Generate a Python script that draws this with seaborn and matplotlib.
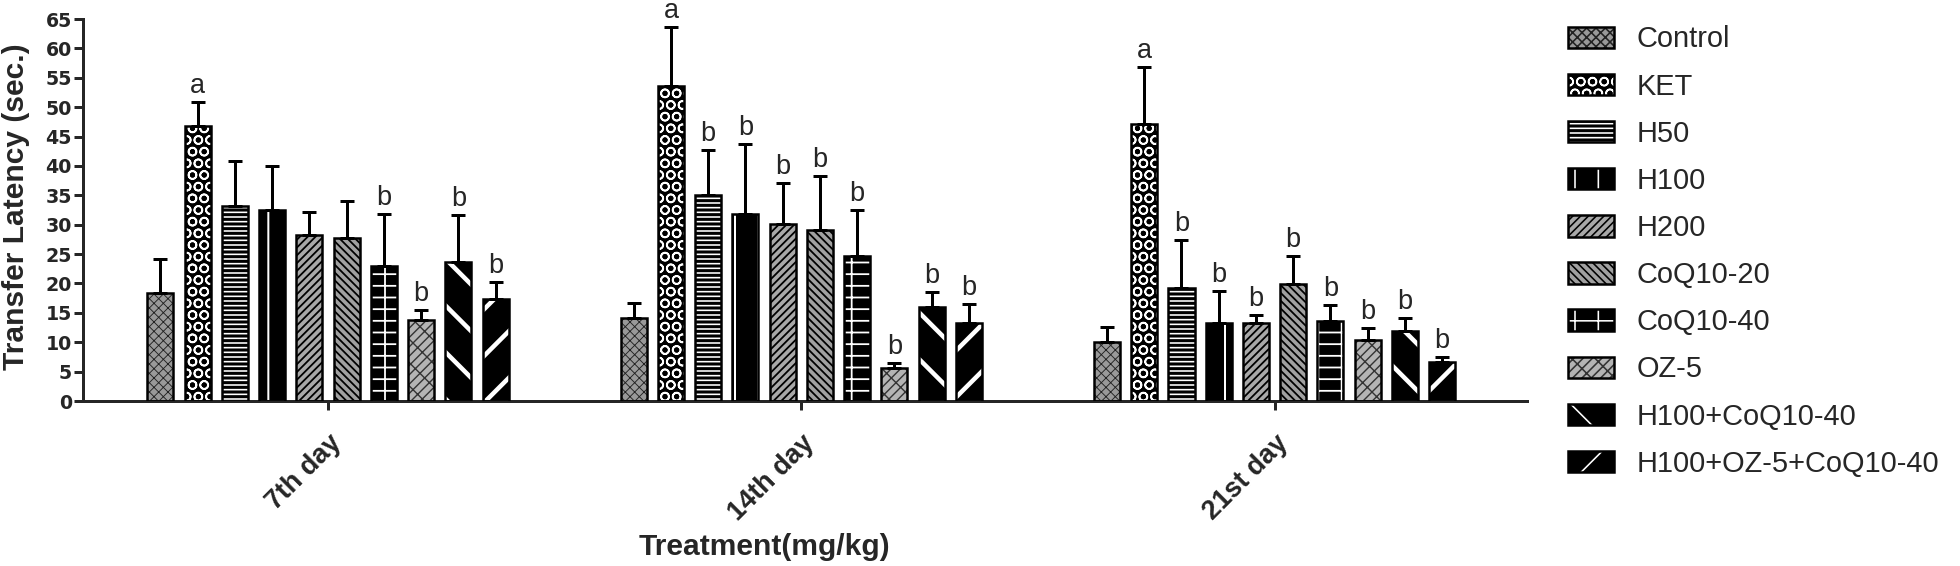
import matplotlib
matplotlib.use("Agg")
import matplotlib.pyplot as plt
from matplotlib.patches import Patch, Rectangle
import seaborn as sns
import pandas as pd

# categories
days = ["7th day", "14th day", "21st day"]
treatments = ["Control", "KET", "H50", "H100", "H200", "CoQ10-20", "CoQ10-40",
              "OZ-5", "H100+CoQ10-40", "H100+OZ-5+CoQ10-40"]

# mean transfer latency (sec.) per treatment, one list per day
mean_7 = [18.4, 46.8, 33.1, 32.5, 28.2, 27.8, 23.0, 13.7, 23.6, 17.3]
mean_14 = [14.2, 53.6, 35.0, 31.9, 30.2, 29.1, 24.6, 5.6, 16.0, 13.2]
mean_21 = [10.0, 47.2, 19.2, 13.3, 13.2, 19.9, 13.6, 10.4, 11.9, 6.7]

# upper error (sem)
err_7 = [5.7, 4.1, 7.7, 7.5, 3.9, 6.2, 8.8, 1.8, 8.0, 3.0]
err_14 = [2.4, 10.1, 7.7, 11.9, 6.9, 9.2, 7.9, 0.8, 2.5, 3.3]
err_21 = [2.6, 9.7, 8.2, 5.4, 1.4, 4.7, 2.7, 2.0, 2.2, 0.8]

# significance letters
sig_7 = ["", "a", "", "", "", "", "b", "b", "b", "b"]
sig_14 = ["", "a", "b", "b", "b", "b", "b", "b", "b", "b"]
sig_21 = ["", "a", "b", "b", "b", "b", "b", "b", "b", "b"]

means = [mean_7, mean_14, mean_21]
errs = [err_7, err_14, err_21]
sigs = [sig_7, sig_14, sig_21]

DPI = 140


def P(px):
    # pixels -> points at the output dpi
    return px * 72.0 / DPI


# fill / hatch / hatch colour / hatch width (px) per treatment
styles = {
    "Control": ("#999999", "xxxxx", "#222222", 0.9),
    "KET": ("black", "OO", "white", 1.7),
    "H50": ("black", "-----", "white", 1.6),
    "H100": ("black", "|", "white", 2.0),
    "H200": ("#a8a8a8", "//////", "black", 1.8),
    "CoQ10-20": ("#a0a0a0", "\\\\\\\\\\\\", "black", 1.8),
    "CoQ10-40": ("black", "+-", "white", 1.8),
    "OZ-5": ("#b4b4b4", "xx///", "#333333", 1.4),
    "H100+CoQ10-40": ("black", "\\", "white", 4.5),
    "H100+OZ-5+CoQ10-40": ("black", "/", "white", 4.5),
}


def use_hatch_width(artist, lw_pt):
    # per-artist hatch width, whichever way this matplotlib supports it
    if hasattr(artist, "set_hatch_linewidth"):
        artist.set_hatch_linewidth(lw_pt)
    orig = artist.draw

    def draw(renderer, _orig=orig, _lw=lw_pt):
        with plt.rc_context({"hatch.linewidth": _lw}):
            _orig(renderer)
    artist.draw = draw


rows = []
for d, m_list, e_list in zip(days, means, errs):
    for t, m, e in zip(treatments, m_list, e_list):
        rows.append({"day": d, "treatment": t, "latency": m, "err": e})
df = pd.DataFrame(rows)

sns.set_style("ticks")
plt.rcParams["font.family"] = ["Liberation Sans", "DejaVu Sans"]
plt.rcParams["hatch.linewidth"] = P(1.6)

fig = plt.figure(figsize=(1960 / DPI, 566 / DPI), dpi=DPI)
ax = fig.add_axes([0.0423, 0.2915, 0.7367, 0.6749])

sns.barplot(data=df, x="day", y="latency", hue="treatment", order=days,
            hue_order=treatments, errorbar=None, width=0.787, gap=0.3,
            legend=False, ax=ax)

for i, (t, cont) in enumerate(zip(treatments, ax.containers)):
    fc, hatch, hc, hlw = styles[t]
    for j, bar in enumerate(cont):
        bar.set_facecolor(fc)
        bar.set_edgecolor(hc)
        bar.set_hatch(hatch)
        bar.set_linewidth(0)
        use_hatch_width(bar, P(hlw))
        ax.add_patch(Rectangle(bar.get_xy(), bar.get_width(), bar.get_height(),
                               fill=False, edgecolor="black", linewidth=P(2.5), zorder=3))
        xc = bar.get_x() + bar.get_width() / 2
        top = means[j][i]
        e = errs[j][i]
        ax.errorbar([xc], [top], yerr=[[0], [e]], fmt="none", ecolor="black",
                    elinewidth=P(3), capsize=P(7), capthick=P(3), zorder=2)
        if sigs[j][i]:
            ax.annotate(sigs[j][i], (xc, top + e), xytext=(0, P(9)),
                        textcoords="offset points", ha="center", va="baseline",
                        fontsize=P(27))

ax.set_xlim(-0.518, 2.533)
ax.set_ylim(0, 65)
ax.set_yticks(range(0, 66, 5))
ax.tick_params(axis="y", labelsize=P(19), width=P(3), length=P(9), pad=P(2))
ax.tick_params(axis="x", labelsize=P(27), width=P(3), length=P(9), pad=P(20))
for lab in ax.get_yticklabels():
    lab.set_fontweight("bold")
    lab.set_family(["DejaVu Sans"])
plt.setp(ax.get_xticklabels(), rotation=45, ha="right", rotation_mode="anchor",
         fontweight="bold")
for s in ["left", "bottom"]:
    ax.spines[s].set_linewidth(P(3))
sns.despine(ax=ax)

ax.set_ylabel("Transfer Latency (sec.)", fontsize=P(30), fontweight="bold")
ax.yaxis.set_label_coords(-0.0367, 0.51)
ax.set_xlabel("Treatment(mg/kg)", fontsize=P(30), fontweight="bold", va="top")
ax.xaxis.set_label_coords(0.472, -0.345)

handles = []
for t in treatments:
    fc, hatch, hc, hlw = styles[t]
    p = Patch(facecolor=fc, edgecolor=hc, hatch=hatch, linewidth=0)
    o = Patch(fill=False, edgecolor="black", linewidth=P(2.5))
    handles.append((p, o))
leg = fig.legend(handles, treatments, loc="upper left", bbox_to_anchor=(0.8, 0.955),
                 frameon=False, fontsize=P(29), handlelength=1.6, handleheight=0.76,
                 labelspacing=0.66, handletextpad=0.76, borderpad=0, borderaxespad=0)

fig.savefig("out.png", dpi=DPI)
